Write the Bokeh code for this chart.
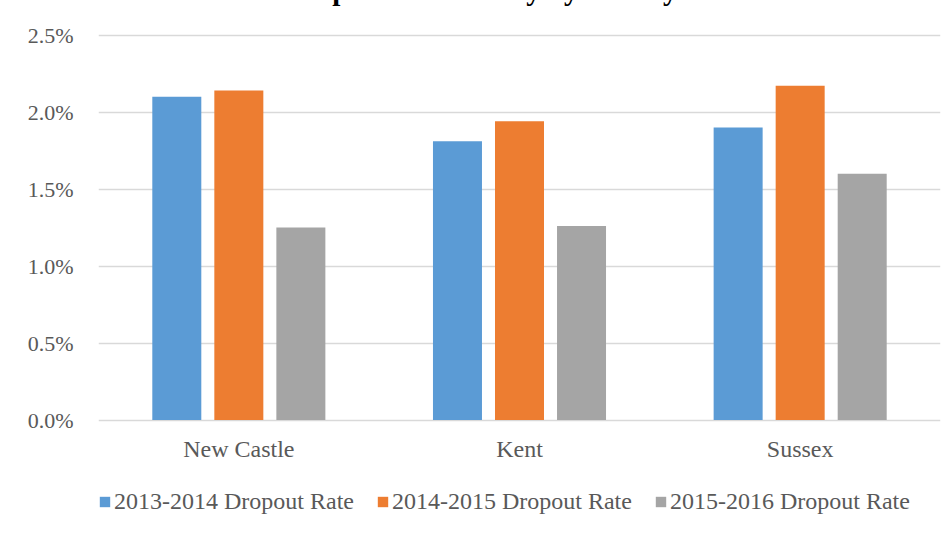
from bokeh.plotting import figure
from bokeh.models import (FactorRange, Range1d, ColumnDataSource, FixedTicker,
                          NumeralTickFormatter, Legend, LegendItem)
from bokeh.transform import dodge
from bokeh.embed import file_html
from bokeh.resources import INLINE

# ---- data ----
counties = ["New Castle", "Kent", "Sussex"]
series_names = ["2013-2014 Dropout Rate", "2014-2015 Dropout Rate", "2015-2016 Dropout Rate"]
rate_2013_2014 = [0.0210, 0.0181, 0.0190]
rate_2014_2015 = [0.0214, 0.0194, 0.0217]
rate_2015_2016 = [0.0125, 0.0126, 0.0160]
y_ticks = [0, 0.005, 0.010, 0.015, 0.020, 0.025]
title_text = "Dropout Rate Yearly by County"

colors = ["#5B9BD5", "#ED7D31", "#A5A5A5"]
FONT = "Liberation Serif"
TXT = "#595959"

src = ColumnDataSource(dict(county=counties, s0=rate_2013_2014,
                            s1=rate_2014_2015, s2=rate_2015_2016))

# the frame reaches down to the bottom edge, so that the category labels and
# the legend can be drawn inside it, below the zero line
p = figure(x_range=FactorRange(factors=counties, range_padding=0),
           y_range=Range1d(-0.007435, 0.0251),
           frame_width=842, frame_height=501,
           output_backend="svg", toolbar_location=None,
           min_border_left=98, min_border_right=5, min_border_top=33,
           min_border_bottom=0)
p.outline_line_color = None
p.background_fill_color = "white"
p.border_fill_color = "white"

# title (cropped at the top edge, as in the reference)
p.title.text = title_text
p.title.text_font = FONT
p.title.text_font_style = "bold"
p.title.text_font_size = "29px"
p.title.text_color = "black"
p.title.align = "left"
p.title.offset = 186
p.title.vertical_align = "top"
p.title.standoff = -120

offsets = [-0.221, 0.0, 0.221]
renderers = []
for j, col in enumerate(["s0", "s1", "s2"]):
    r = p.vbar(x=dodge("county", offsets[j], range=p.x_range), top=col,
               width=0.1746, source=src, fill_color=colors[j], line_color=None)
    renderers.append(r)

# axes
p.yaxis.ticker = FixedTicker(ticks=y_ticks)
p.yaxis.formatter = NumeralTickFormatter(format="0.0%")
p.yaxis.axis_line_color = None
p.yaxis.major_tick_line_color = None
p.yaxis.minor_tick_line_color = None
p.yaxis.major_label_standoff = 19
p.yaxis.major_label_text_font = FONT
p.yaxis.major_label_text_font_size = "22px"
p.yaxis.major_label_text_color = TXT

p.xaxis.fixed_location = 0
p.xaxis.axis_line_color = None
p.xaxis.major_tick_line_color = None
p.xaxis.minor_tick_line_color = None
p.xaxis.major_label_standoff = 10
p.xaxis.major_label_text_font = FONT
p.xaxis.major_label_text_font_size = "24px"
p.xaxis.major_label_text_color = TXT

p.xgrid.grid_line_color = None
p.ygrid.ticker = FixedTicker(ticks=y_ticks)
p.ygrid.grid_line_color = "#D9D9D9"
p.ygrid.grid_line_width = 1.5

legend = Legend(items=[LegendItem(label=n, renderers=[r]) for n, r in zip(series_names, renderers)],
                orientation="horizontal", location=(0, 19),
                label_text_font=FONT, label_text_font_size="24px", label_text_color=TXT,
                glyph_width=13, glyph_height=13, label_standoff=3, spacing=22,
                padding=0, margin=0, border_line_color=None, background_fill_alpha=0)
p.add_layout(legend, "center")

open("out.html", "w").write(file_html(p, INLINE))
